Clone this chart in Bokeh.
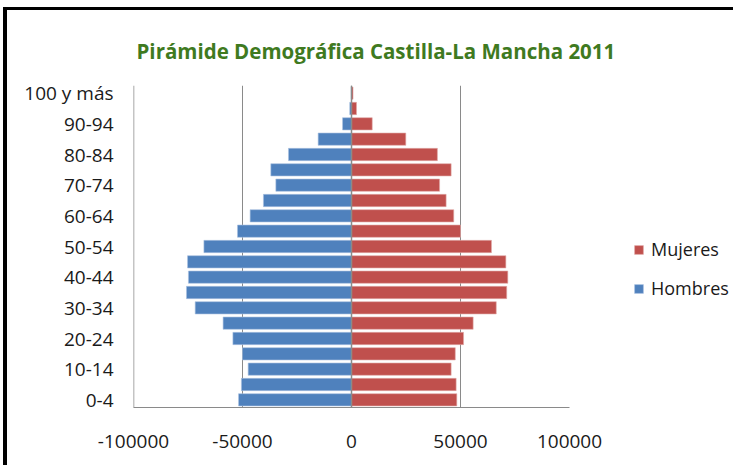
from bokeh.plotting import figure
from bokeh.models import (Range1d, FixedTicker, NumeralTickFormatter,
                          Legend, LegendItem, Span)
from bokeh.embed import file_html
from bokeh.resources import INLINE

ages = ["0-4", "5-9", "10-14", "15-19", "20-24", "25-29", "30-34", "35-39",
        "40-44", "45-49", "50-54", "55-59", "60-64", "65-69", "70-74", "75-79",
        "80-84", "85-89", "90-94", "95-99", "100 y más"]
hombres = [-51800, -50500, -47400, -50000, -54400, -58900, -71700, -75700,
           -74800, -75200, -67700, -52300, -46500, -40400, -34700, -37000,
           -28900, -15300, -4100, -800, -150]
mujeres = [48300, 48000, 45700, 47600, 51400, 55800, 66400, 71200,
           71700, 70800, 64200, 50000, 46900, 43400, 40400, 45700,
           39400, 24900, 9500, 2300, 700]
x_ticks = [-100000, -50000, 0, 50000, 100000]
title_text = "Pirámide Demográfica Castilla-La Mancha 2011"

FONT = "Open Sans"
GREY = "#8a8a8a"

ypos = list(range(len(ages)))

p = figure(frame_width=436, frame_height=322,
           min_border_left=126, min_border_right=160,
           min_border_top=75, min_border_bottom=58,
           x_range=Range1d(-100000, 100000),
           y_range=Range1d(-0.5, len(ages) - 0.5),
           output_backend="svg", toolbar_location=None,
           title=title_text)

p.styles = {"margin-left": "3px", "margin-top": "7px",
            "border-left": "4px solid black", "border-top": "3px solid black"}

p.title.align = "left"
p.title.offset = 3
p.title.standoff = 42
p.title.text_font = FONT
p.title.text_font_size = "20.5px"
p.title.text_font_style = "bold"
p.title.text_color = "#3f7a1f"

p.outline_line_color = None
p.background_fill_color = "white"
p.border_fill_color = "white"

r_h = p.hbar(y=ypos, right=hombres, left=0, height=0.8,
             fill_color="#4f81bd", line_color="#a9c1e0", line_width=0.6)
r_m = p.hbar(y=ypos, right=mujeres, left=0, height=0.8,
             fill_color="#c0504d", line_color="#e0a9a7", line_width=0.6)

# axes
p.xaxis.ticker = FixedTicker(ticks=x_ticks)
p.xaxis.formatter = NumeralTickFormatter(format="0")
p.xaxis.axis_line_color = GREY
p.xaxis.major_tick_line_color = None
p.xaxis.minor_tick_line_color = None
p.xaxis.major_tick_out = 0
p.xaxis.major_label_standoff = 27
p.xaxis.major_label_text_font = FONT
p.xaxis.major_label_text_font_size = "19px"
p.xaxis.major_label_text_color = "#1a1a1a"

p.yaxis.ticker = FixedTicker(ticks=ypos[::2])
p.yaxis.major_label_overrides = {i: ages[i] for i in ypos}
p.yaxis.axis_line_color = None
p.yaxis.major_tick_line_color = None
p.yaxis.minor_tick_line_color = None
p.yaxis.major_tick_out = 0
p.yaxis.major_label_standoff = 20
p.yaxis.major_label_text_font = FONT
p.yaxis.major_label_text_font_size = "19px"
p.yaxis.major_label_text_color = "#1a1a1a"

p.xgrid.ticker = FixedTicker(ticks=x_ticks)
p.xgrid.grid_line_color = GREY
p.ygrid.grid_line_color = None

p.add_layout(Span(location=x_ticks[0], dimension="height", line_color=GREY,
                  line_width=1.5, level="overlay"))
p.add_layout(Span(location=0, dimension="height", line_color=GREY, line_width=1.5,
                  level="overlay"))

legend = Legend(items=[LegendItem(label="Mujeres", renderers=[r_m]),
                       LegendItem(label="Hombres", renderers=[r_h])],
                location=(64, 107), border_line_color=None,
                background_fill_alpha=0, padding=0, margin=0,
                glyph_width=11, glyph_height=11, label_standoff=7,
                label_height=20, spacing=15,
                label_text_font=FONT, label_text_font_size="18px",
                label_text_color="#1a1a1a")
p.add_layout(legend, "right")

open("out.html", "w").write(file_html(p, INLINE))
